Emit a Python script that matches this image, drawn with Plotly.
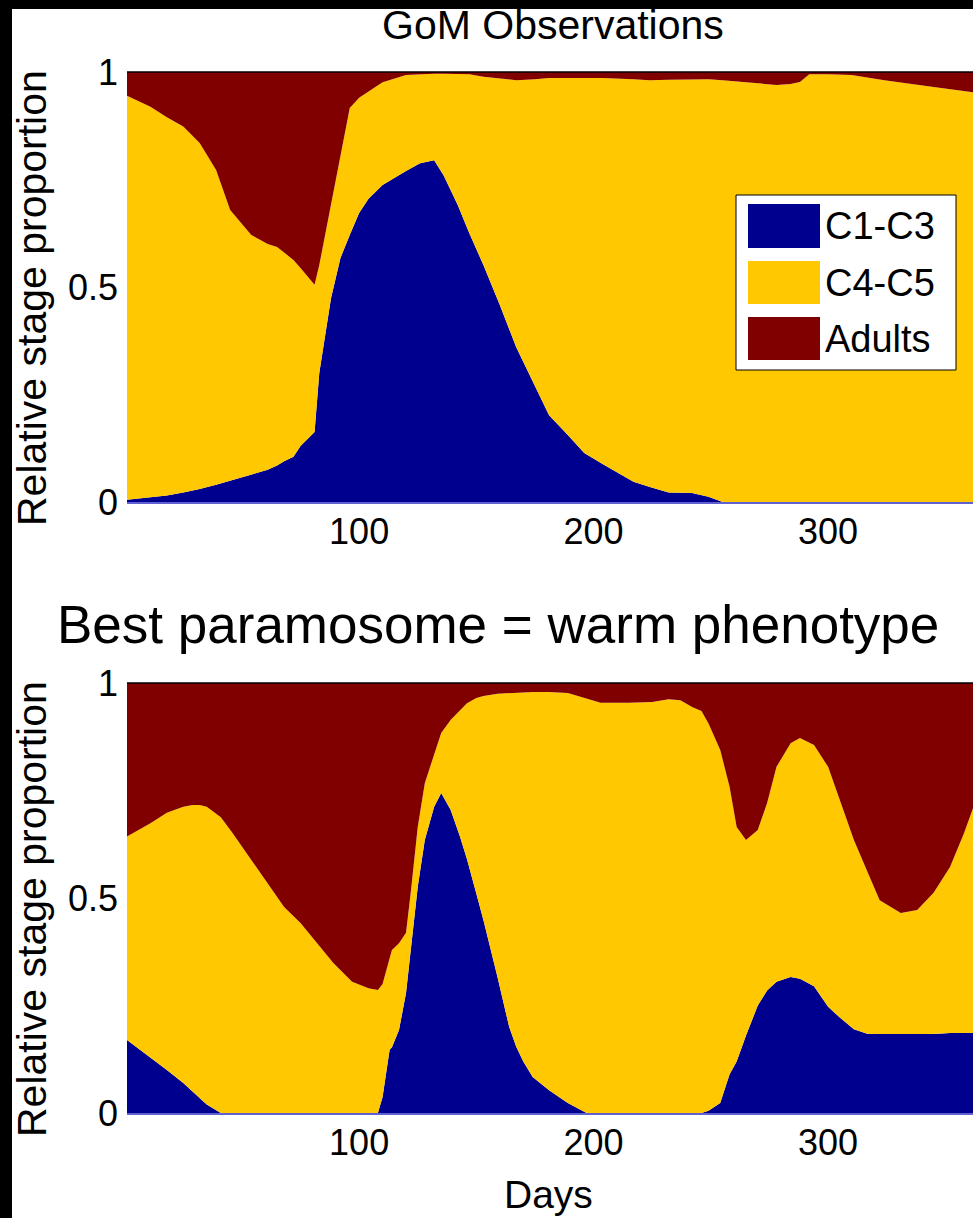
import plotly.graph_objects as go

W, H = 973, 1218

# ---------------- data ----------------
stage_names = ["C1-C3", "C4-C5", "Adults"]
stage_colors = ["#00008F", "#FFC800", "#800000"]

# Top panel: GoM observations (day of year, cumulative boundaries)
gom_days = [1, 11, 18, 25, 32, 39, 45, 54, 61, 65,
            68, 72, 75, 81, 83, 88, 92, 96, 100, 104,
            110, 120, 126, 132, 136, 142, 147, 153, 160, 167,
            175, 181, 189, 196, 204, 217, 224, 232, 242, 249,
            255, 262, 270, 278, 284, 288, 292, 300, 310, 324,
            345, 362]
gom_c13 = [0.005, 0.010, 0.015, 0.022, 0.030, 0.040, 0.050, 0.065, 0.075, 0.085,
           0.095, 0.105, 0.130, 0.163, 0.300, 0.474, 0.567, 0.621, 0.672, 0.705,
           0.737, 0.770, 0.788, 0.795, 0.760, 0.691, 0.625, 0.551, 0.458, 0.360,
           0.270, 0.202, 0.156, 0.114, 0.088, 0.047, 0.035, 0.022, 0.021, 0.012,
           0.0, 0.0, 0.0, 0.0, 0.0, 0.0, 0.0, 0.0, 0.0, 0.0,
           0.0, 0.0]
# C1-C3 + C4-C5 (i.e. 1 - Adults)
gom_juv = [0.945, 0.919, 0.895, 0.873, 0.835, 0.772, 0.679, 0.621, 0.600, 0.593,
           0.580, 0.563, 0.544, 0.505, 0.551, 0.691, 0.807, 0.916, 0.940, 0.955,
           0.976, 0.993, 0.995, 0.996, 0.996, 0.995, 0.995, 0.989, 0.985, 0.981,
           0.983, 0.986, 0.986, 0.986, 0.986, 0.983, 0.981, 0.982, 0.983, 0.983,
           0.981, 0.978, 0.973, 0.970, 0.972, 0.977, 0.995, 0.995, 0.993, 0.981,
           0.965, 0.953]

# Bottom panel: best paramosome = warm phenotype
warm_days = [1, 11, 18, 25, 29, 32, 35, 41, 46, 54,
             61, 68, 75, 82, 89, 97, 104, 108, 110, 113,
             114, 117, 120, 122, 125, 128, 132, 135, 139, 143,
             146, 150, 153, 159, 164, 167, 170, 174, 181, 189,
             197, 203, 215, 225, 232, 237, 242, 246, 249, 254,
             258, 261, 265, 270, 274, 278, 284, 288, 294, 300,
             305, 311, 317, 322, 331, 338, 345, 352, 358, 362]
warm_c13 = [0.170, 0.130, 0.100, 0.070, 0.050, 0.037, 0.020, 0.0, 0.0, 0.0,
            0.0, 0.0, 0.0, 0.0, 0.0, 0.0, 0.0, 0.0, 0.037, 0.147,
            0.153, 0.193, 0.279, 0.372, 0.526, 0.635, 0.712, 0.744, 0.705, 0.643,
            0.590, 0.510, 0.449, 0.316, 0.200, 0.154, 0.120, 0.084, 0.053, 0.023,
            0.0, 0.0, 0.0, 0.0, 0.0, 0.0, 0.0, 0.0, 0.005, 0.023,
            0.090, 0.120, 0.180, 0.250, 0.285, 0.305, 0.316, 0.312, 0.295, 0.247,
            0.222, 0.195, 0.184, 0.184, 0.184, 0.184, 0.184, 0.186, 0.186, 0.186]
warm_juv = [0.643, 0.674, 0.698, 0.712, 0.716, 0.716, 0.712, 0.688, 0.651, 0.588,
            0.535, 0.479, 0.442, 0.395, 0.349, 0.305, 0.290, 0.286, 0.300, 0.360,
            0.379, 0.395, 0.419, 0.512, 0.665, 0.767, 0.837, 0.884, 0.914, 0.935,
            0.953, 0.965, 0.970, 0.975, 0.977, 0.978, 0.978, 0.979, 0.979, 0.977,
            0.963, 0.954, 0.954, 0.956, 0.962, 0.960, 0.944, 0.935, 0.906, 0.844,
            0.758, 0.665, 0.635, 0.658, 0.721, 0.805, 0.860, 0.872, 0.856, 0.805,
            0.728, 0.635, 0.558, 0.495, 0.465, 0.472, 0.512, 0.572, 0.651, 0.712]

x_ticks = [100, 200, 300]
y_ticks = [0, 0.5, 1]
y_ticktext = ["0", "0.5", "1"]

FONT = "Liberation Sans, Arial, Helvetica, sans-serif"


def px(x):
    return x / W


def py(y):
    return 1 - y / H


def stage_props(c13, juv):
    c45 = [round(j - c, 4) for c, j in zip(c13, juv)]
    ad = [round(1 - j, 4) for j in juv]
    return [c13, c45, ad]


fig = go.Figure()

panels = [
    (gom_days, stage_props(gom_c13, gom_juv), "x", "y", "top"),
    (warm_days, stage_props(warm_c13, warm_juv), "x2", "y2", "bot"),
]
for days, props, xa, ya, grp in panels:
    for name, vals, col in zip(stage_names, props, stage_colors):
        fig.add_trace(go.Scatter(
            x=days, y=vals, name=name, mode="lines",
            stackgroup=grp, line=dict(width=0, color=col),
            fillcolor=col, showlegend=False, hoverinfo="skip",
            xaxis=xa, yaxis=ya,
        ))

xdom = [px(127), 1.0]
top_dom = [py(502), py(72)]
bot_dom = [py(1113), py(683)]

axis_font = dict(family=FONT, size=36, color="black")
xcommon = dict(range=[1, 361.8], domain=xdom, tickvals=x_ticks, ticks="",
               showgrid=False, zeroline=False, showline=True,
               linecolor="#6060d0", linewidth=1.5, tickfont=axis_font,
               ticklabelstandoff=-3, automargin=False)
ycommon = dict(range=[0, 1], tickvals=y_ticks, ticktext=y_ticktext, ticks="",
               showgrid=False, zeroline=False, showline=False,
               tickfont=axis_font, ticklabelstandoff=8, automargin=False)

fig.update_layout(
    template="none",
    width=W, height=H,
    autosize=False,
    margin=dict(l=0, r=0, t=0, b=0, pad=0, autoexpand=False),
    paper_bgcolor="white", plot_bgcolor="white",
    showlegend=False,
    xaxis=dict(anchor="y", **xcommon),
    yaxis=dict(anchor="x", domain=top_dom, **ycommon),
    xaxis2=dict(anchor="y2", **xcommon),
    yaxis2=dict(anchor="x2", domain=bot_dom, **ycommon),
)

shapes = []
# top box lines of each axes
for ytop in (72, 683):
    shapes.append(dict(type="line", xref="paper", yref="paper",
                       x0=px(127), x1=1, y0=py(ytop), y1=py(ytop),
                       line=dict(color="black", width=1.5), layer="above"))
# legend box
shapes.append(dict(type="rect", xref="paper", yref="paper",
                   x0=px(736), x1=px(956), y0=py(370), y1=py(195),
                   fillcolor="white", line=dict(color="black", width=1),
                   layer="above"))
legend_rows = [(204, 248), (261, 304), (317, 360)]
for (y0, y1), col in zip(legend_rows, stage_colors):
    shapes.append(dict(type="rect", xref="paper", yref="paper",
                       x0=px(748), x1=px(820), y0=py(y1), y1=py(y0),
                       fillcolor=col, line=dict(width=0), layer="above"))
fig.update_layout(shapes=shapes)

ann = []
for (y0, y1), name in zip(legend_rows, stage_names):
    ann.append(dict(text=name, xref="paper", yref="paper",
                    x=px(823), y=py((y0 + y1) / 2), xanchor="left",
                    yanchor="middle", showarrow=False,
                    font=dict(family=FONT, size=38, color="black")))
ann.append(dict(text="GoM Observations", xref="paper", yref="paper",
                x=px(553), y=py(25), xanchor="center", yanchor="middle",
                showarrow=False, font=dict(family=FONT, size=41, color="black")))
ann.append(dict(text="Best paramosome = warm phenotype", xref="paper", yref="paper",
                x=px(498), y=py(624), xanchor="center", yanchor="middle",
                showarrow=False, font=dict(family=FONT, size=53, color="black")))
ann.append(dict(text="Days", xref="paper", yref="paper",
                x=px(548), y=py(1194), xanchor="center", yanchor="middle",
                showarrow=False, font=dict(family=FONT, size=39, color="black")))
for yc in (298, 909):
    ann.append(dict(text="Relative stage proportion", xref="paper", yref="paper",
                    x=px(32), y=py(yc), xanchor="center", yanchor="middle",
                    textangle=-90, showarrow=False,
                    font=dict(family=FONT, size=41, color="black")))
# black frame strips (left and top), drawn last so they sit on top
ann.append(dict(text=" ", xref="paper", yref="paper", x=0, y=0,
                xanchor="left", yanchor="bottom", width=12, height=H,
                bgcolor="black", borderpad=0, borderwidth=0, showarrow=False))
ann.append(dict(text=" ", xref="paper", yref="paper", x=0, y=1,
                xanchor="left", yanchor="top", width=W, height=9,
                bgcolor="black", borderpad=0, borderwidth=0, showarrow=False))
fig.update_layout(annotations=ann)

fig.write_html(
    "out.html",
    config={"displayModeBar": False, "staticPlot": True},
    post_script="document.body.style.margin='0';"
                "document.body.style.overflow='hidden';",
)
